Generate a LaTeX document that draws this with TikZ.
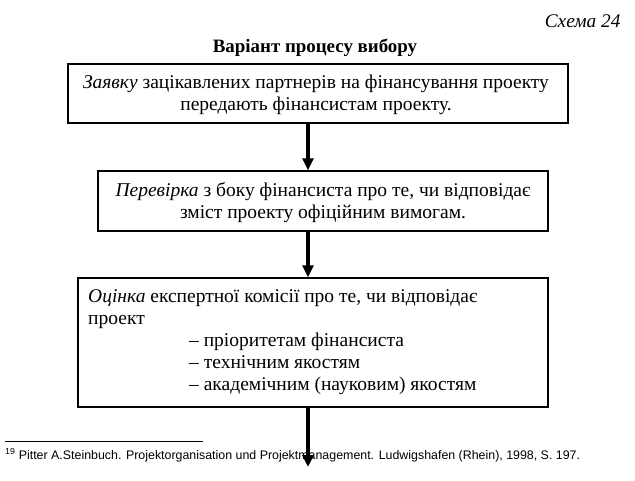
\documentclass[tikz,border=0pt]{standalone}
\usepackage{fontspec}
\setmainfont{Liberation Serif}
\newfontfamily\fnfont{Liberation Sans}
\usetikzlibrary{arrows.meta}
\begin{document}
\begin{tikzpicture}[x=1pt,y=-1pt,
  boxstyle/.style={draw, line width=1.4pt, rectangle, inner sep=0pt},
  arrowstyle/.style={line width=3.4pt, -{Triangle[length=12pt,width=11pt]}},
  txt/.style={font=\fontsize{19.5}{22}\selectfont}]
\path[use as bounding box, fill=white] (0,0) rectangle (635,480);
\node[font=\fontsize{19.3}{22}\selectfont\itshape, anchor=base east] (schema) at (624,27) {Схема 24};
\node[font=\fontsize{18.9}{22}\selectfont\bfseries, anchor=base] (title) at (315,52) {Варіант процесу вибору};
\node[boxstyle, minimum width=500pt, minimum height=59pt] (b1) at (318,93.5) {};
\node[txt, align=center, inner sep=0pt] (t1) at (316,94.5)
  {\textit{Заявку} зацікавлених партнерів на фінансування проекту\\передають фінансистам проекту.};
\node[boxstyle, minimum width=450pt, minimum height=60pt] (b2) at (323,201) {};
\node[txt, align=center, inner sep=0pt] (t2) at (323,202.5)
  {\textit{Перевірка} з боку фінансиста про те, чи відповідає\\зміст проекту офіційним вимогам.};
\node[boxstyle, minimum width=470pt, minimum height=129pt] (b3) at (313,342.5) {};
\node[txt, anchor=north west, align=left, inner sep=0pt] (t3) at (88,289)
  {\textit{Оцінка} експертної комісії про те, чи відповідає\\проект\\
   \hspace*{101pt}– пріоритетам фінансиста\\
   \hspace*{101pt}– технічним якостям\\
   \hspace*{101pt}– академічним (науковим) якостям};
\coordinate (ax) at (308,0);
\coordinate (end) at (308,467);
\draw (5,441) -- (203,441);
\node[anchor=base west, inner sep=0pt, font=\fnfont\fontsize{12.4}{14}\selectfont] (fn) at (5,459)
  {\textsuperscript{19} Pitter A.Steinbuch. Projektorganisation und Projektmanagement. Ludwigshafen (Rhein), 1998, S. 197.};
\draw[arrowstyle] (b1.south -| ax) -- (b2.north -| ax);
\draw[arrowstyle] (b2.south -| ax) -- (b3.north -| ax);
\draw[arrowstyle] (b3.south -| ax) -- (end);
\end{tikzpicture}
\end{document}
